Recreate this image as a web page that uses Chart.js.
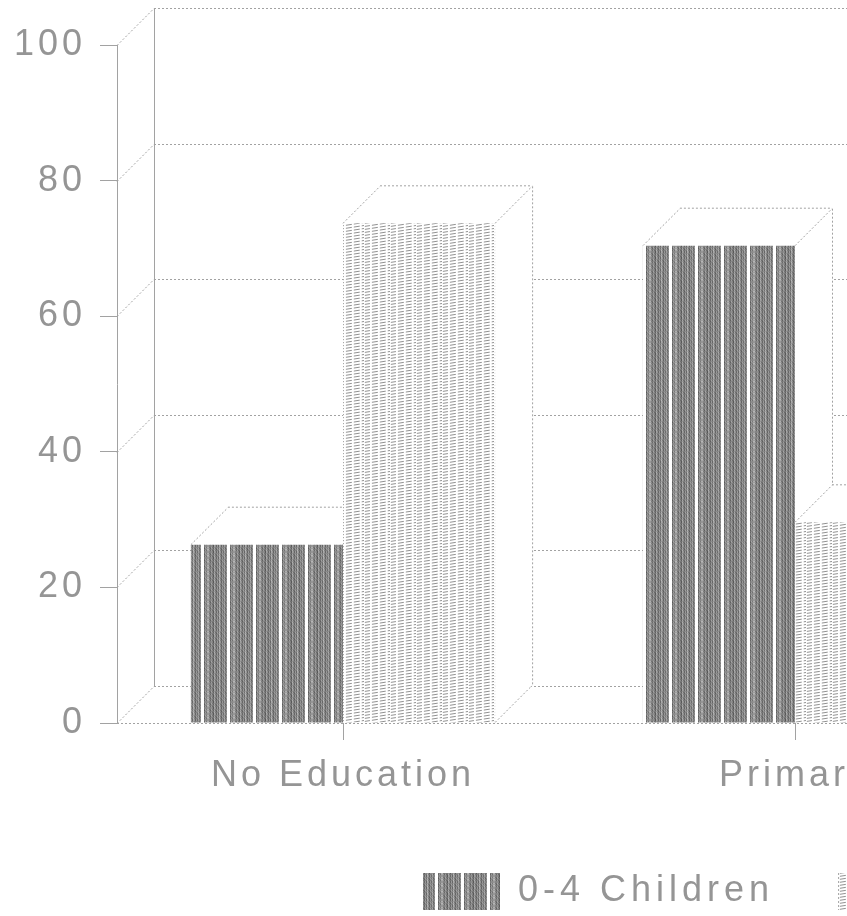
<!DOCTYPE html>
<html>
<head>
<meta charset="utf-8">
<script src="https://cdn.jsdelivr.net/npm/chart.js@4/dist/chart.umd.min.js"></script>
<style>
  html, body { margin: 0; padding: 0; background: #fff; overflow: hidden; }
  #wrap { width: 1081px; height: 916px; position: relative; }
</style>
</head>
<body>
<div id="wrap"><canvas id="chart" width="1081" height="916"></canvas></div>
<script>
// Share of women by education level and number of children (percent)
const categories = ['No Education', 'Primary'];
const seriesLabels = ['0-4 Children', '5+ Children'];
const children0to4 = [26.3, 70.4];
const children5plus = [73.7, 29.6];
const yTickValues = [0, 20, 40, 60, 80, 100];

const TEXT = '#959595';
const LINE = '#a2a2a2';
const FONT = 'Liberation Sans, Arial, sans-serif';
const DEPTH = { dx: 37, dy: -37 };

const canvas = document.getElementById('chart');
const ctx = canvas.getContext('2d');

// grey vertical stripes with fine streaks
function stripePattern() {
  const c = document.createElement('canvas');
  c.width = 26; c.height = 6;
  const g = c.getContext('2d');
  g.fillStyle = '#fff';
  g.fillRect(0, 0, 26, 6);
  const shades = [168, 132, 112, 150, 122, 104, 160, 128, 110, 146, 118, 170, 134, 108, 144, 126, 158, 114, 140,
                  null, null, null, 106, 150, 128, 166];
  for (let i = 0; i < 26; i++) {
    if (shades[i] === null) continue;
    for (let j = 0; j < 6; j++) {
      const v = shades[i] + (((i * 7 + j * 13) % 5) - 2) * 8;
      g.fillStyle = `rgb(${v},${v},${v})`;
      g.fillRect(i, j, 1, 1);
    }
  }
  return ctx.createPattern(c, 'repeat');
}

// light shallow hatching in columns
function hatchPattern() {
  const c = document.createElement('canvas');
  c.width = 26; c.height = 3;
  const g = c.getContext('2d');
  g.fillStyle = '#fff';
  g.fillRect(0, 0, 26, 3);
  g.strokeStyle = '#858585';
  g.lineWidth = 0.9;
  g.setLineDash([6, 2]);
  for (let y0 = -9; y0 <= 9; y0 += 3) {
    g.beginPath();
    g.moveTo(0, y0 + 4.5);
    g.lineTo(26, y0 + 0.5);
    g.stroke();
  }
  g.fillStyle = 'rgba(255,255,255,0.85)';
  g.fillRect(0, 0, 1, 3);
  return ctx.createPattern(c, 'repeat');
}

const patterns = [stripePattern(), hatchPattern()];

function dotted(c) {
  c.setLineDash([2, 2]);
  c.strokeStyle = LINE;
  c.lineWidth = 1;
}

function line(c, x1, y1, x2, y2) {
  c.beginPath();
  c.moveTo(x1, y1);
  c.lineTo(x2, y2);
  c.stroke();
}

// wide tracking for all chart text
const tracking = {
  id: 'tracking',
  beforeDraw(chart) { chart.ctx.letterSpacing = '4px'; },
  afterDraw(chart) { chart.ctx.letterSpacing = '0px'; }
};

// back wall, floor and the top/side faces of each bar
const threeD = {
  id: 'threeD',
  beforeDatasetsDraw(chart) {
    const c = chart.ctx;
    const { left, right, top, bottom } = chart.chartArea;
    const ys = chart.scales.y;
    const { dx, dy } = DEPTH;
    const backRight = right + dx;
    c.save();

    // back wall vertical edge
    c.setLineDash([]);
    c.strokeStyle = LINE;
    c.lineWidth = 1;
    line(c, left + dx + 0.5, top + dy, left + dx + 0.5, bottom + dy);

    dotted(c);
    yTickValues.forEach(v => {
      const py = Math.round(ys.getPixelForValue(v)) + 0.5;
      line(c, left, py, left + dx, py + dy);
      line(c, left + dx, py + dy, backRight, py + dy);
    });
    // front floor edge
    const by = Math.round(ys.getPixelForValue(0)) + 0.5;
    line(c, left, by, right, by);

    // faces, drawn category by category, series by series
    const metas = chart.data.datasets.map((d, i) => chart.getDatasetMeta(i));
    for (let k = 0; k < categories.length; k++) {
      metas.forEach(meta => {
        const bar = meta.data[k];
        if (!bar) return;
        const { x, y, base, width } = bar.getProps(['x', 'y', 'base', 'width'], true);
        const L = x - width / 2, R = x + width / 2;
        c.setLineDash([]);
        c.fillStyle = '#fff';
        // top face
        c.beginPath();
        c.moveTo(L, y); c.lineTo(R, y); c.lineTo(R + dx, y + dy); c.lineTo(L + dx, y + dy); c.closePath();
        c.fill();
        // side face
        c.beginPath();
        c.moveTo(R, y); c.lineTo(R + dx, y + dy); c.lineTo(R + dx, base + dy); c.lineTo(R, base); c.closePath();
        c.fill();
        dotted(c);
        line(c, L, y, L + dx, y + dy);
        line(c, L + dx, y + dy - 0.5, R + dx, y + dy - 0.5);
        line(c, R, y, R + dx, y + dy);
        line(c, R + dx + 0.5, y + dy, R + dx + 0.5, base + dy);
        line(c, R, base, R + dx, base + dy);
      });
    }
    c.restore();
  }
};

// legend row under the chart
const legendRow = {
  id: 'legendRow',
  afterDraw(chart) {
    const c = chart.ctx;
    const o = chart.options.plugins.legendRow;
    c.save();
    c.font = `36px ${FONT}`;
    c.letterSpacing = o.letterSpacing + 'px';
    c.textBaseline = 'middle';
    c.textAlign = 'left';
    let x = o.x;
    chart.data.datasets.forEach(ds => {
      c.fillStyle = ds.backgroundColor;
      c.fillRect(x, o.y, o.boxWidth, o.boxHeight);
      if (ds.backgroundColor === patterns[1]) {
        c.strokeStyle = LINE;
        c.setLineDash([2, 2]);
        line(c, x + 0.5, o.y, x + 0.5, o.y + o.boxHeight);
        c.setLineDash([]);
      }
      c.fillStyle = TEXT;
      const tx = x + o.boxWidth + o.textGap;
      c.fillText(ds.label, tx, o.y + o.boxHeight / 2);
      x = tx + c.measureText(ds.label).width + o.itemGap;
    });
    c.restore();
  }
};

new Chart(canvas, {
  type: 'bar',
  data: {
    labels: categories,
    datasets: [
      { label: seriesLabels[0], data: children0to4, backgroundColor: patterns[0] },
      { label: seriesLabels[1], data: children5plus, backgroundColor: patterns[1] }
    ]
  },
  options: {
    responsive: false,
    animation: false,
    devicePixelRatio: 1,
    layout: { padding: { top: 45, right: 60, bottom: 100, left: 0 } },
    datasets: { bar: { categoryPercentage: 0.673, barPercentage: 1.0, borderWidth: 0 } },
    scales: {
      x: {
        grid: { drawOnChartArea: false, drawTicks: true, tickLength: 17, offset: false, color: LINE },
        border: { display: false },
        ticks: { color: TEXT, font: { family: FONT, size: 36 }, padding: 14, maxRotation: 0 },
        afterFit(scale) { scale.height = 93; }
      },
      y: {
        min: 0, max: 100,
        grid: { drawOnChartArea: false, drawTicks: true, tickLength: 17, color: LINE },
        border: { display: true, color: LINE },
        ticks: { stepSize: 20, color: TEXT, font: { family: FONT, size: 36 }, padding: 14 },
        afterFit(scale) { scale.width = 117; }
      }
    },
    plugins: {
      legend: { display: false },
      tooltip: { enabled: false },
      legendRow: { x: 423, y: 873, boxWidth: 77, boxHeight: 37, textGap: 18, itemGap: 64, letterSpacing: 5 }
    }
  },
  plugins: [tracking, threeD, legendRow]
});
</script>
</body>
</html>
